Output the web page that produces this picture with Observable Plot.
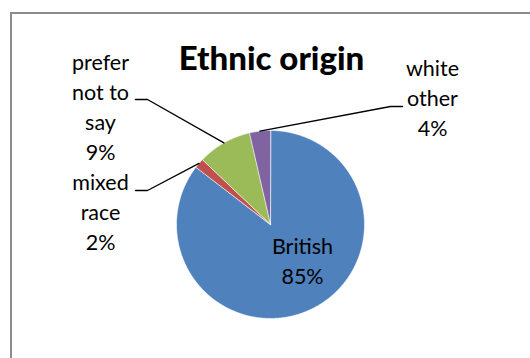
<!DOCTYPE html>
<html>
<head>
<meta charset="utf-8">
<script src="https://cdn.jsdelivr.net/npm/d3@7"></script>
<script src="https://cdn.jsdelivr.net/npm/@observablehq/plot@0.6"></script>
<style>
  html, body { margin: 0; padding: 0; background: #fff; overflow: hidden; }
  #chart svg { display: block; }
</style>
</head>
<body>
<div id="chart"></div>
<script>
// ---- data ----
const categories = ["British", "mixed race", "prefer not to say", "white other"];
const values = [85.4, 1.7, 9.3, 3.6];
const percentLabels = ["85%", "2%", "9%", "4%"];
const labelTexts = ["British", "mixed\nrace", "prefer\nnot to\nsay", "white\nother"];
const colors = ["#4F81BD", "#C0504D", "#9BBB59", "#8064A2"];
const title = "Ethnic origin";

// ---- layout ----
const W = 530, H = 358;
const cx = 270, cy = 224, r = 94;
const FONT = "Lato, 'Open Sans', sans-serif";

const rows = categories.map((c, i) => ({category: c, value: values[i], pct: percentLabels[i], label: labelTexts[i] + "\n" + percentLabels[i]}));
const arcs = d3.pie().sort(null).value(d => d.value).startAngle(0).endAngle(2 * Math.PI)(rows);

const pt = (a, rad) => [cx + rad * Math.sin(a), cy - rad * Math.cos(a)];

// slice polygons
const slicePts = [];
arcs.forEach(a => {
  const n = Math.max(4, Math.ceil((a.endAngle - a.startAngle) / 0.01));
  slicePts.push({category: a.data.category, x: cx, y: cy});
  for (let k = 0; k <= n; k++) {
    const ang = a.startAngle + (a.endAngle - a.startAngle) * k / n;
    const [x, y] = pt(ang, r);
    slicePts.push({category: a.data.category, x, y});
  }
});

// label placement (layout)
const labelPlace = {
  "British":           {x: 302, y: 259, leader: null},
  "mixed race":        {x: 100, y: 210, leader: {x0: 135, x1: 147, y: 190}},
  "prefer not to say": {x: 100, y: 105, leader: {x0: 135, x1: 147, y: 99}},
  "white other":       {x: 432, y: 96,  leader: {x0: 402, x1: 390, y: 106}}
};

const labelRows = arcs.map(a => ({label: a.data.label, ...labelPlace[a.data.category]}));
const leaderPts = [];
arcs.forEach(a => {
  const L = labelPlace[a.data.category].leader;
  if (!L) return;
  const mid = (a.startAngle + a.endAngle) / 2;
  const [ex, ey] = pt(mid, r);
  leaderPts.push({id: a.data.category, x: L.x0, y: L.y});
  leaderPts.push({id: a.data.category, x: L.x1, y: L.y});
  leaderPts.push({id: a.data.category, x: ex, y: ey});
});

const plot = Plot.plot({
  width: W, height: H,
  margin: 0,
  x: {domain: [0, W], range: [0, W], axis: null},
  y: {domain: [0, H], range: [0, H], axis: null},
  color: {domain: categories, range: colors},
  style: {fontFamily: FONT, background: "#fff"},
  marks: [
    Plot.rect([{}], {x1: 11, x2: 531, y1: 13, y2: 359, fill: "none", stroke: "#8c8c8c", strokeWidth: 2}),
    Plot.line(slicePts, {x: "x", y: "y", z: "category", fill: "category", stroke: "#fff", strokeWidth: 0.6, curve: "linear-closed"}),
    Plot.line(leaderPts, {x: "x", y: "y", z: "id", stroke: "#000", strokeWidth: 1.4}),
    Plot.text(labelRows, {x: "x", y: "y", text: "label", fontSize: 21.5, lineHeight: 1.39, lineAnchor: "middle", textAnchor: "middle", fill: "#000"}),
    Plot.text([title], {x: 271, y: 59, text: d => d, fontSize: 33, fontWeight: 900, textAnchor: "middle", lineAnchor: "middle", fill: "#000"})
  ]
});
document.getElementById("chart").appendChild(plot);
</script>
</body>
</html>
